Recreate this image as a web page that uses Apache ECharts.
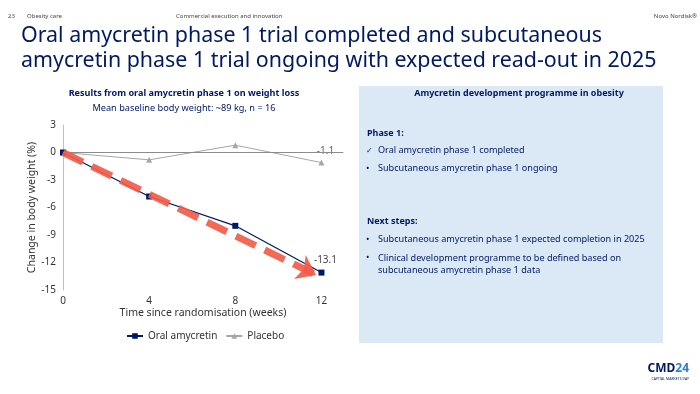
<!DOCTYPE html>
<html><head><meta charset="utf-8">
<script src="https://cdn.jsdelivr.net/npm/echarts@6/dist/echarts.min.js"></script>
<style>html,body{margin:0;padding:0;background:#fff}#c{width:700px;height:394px}</style>
</head><body><div id="c"></div>
<script>
const weeks = [0, 4, 8, 12];
const oralAmycretin = [0, -4.8, -8.0, -13.1];
const placebo = [0, -0.8, 0.8, -1.1];
const xTicks = [0, 4, 8, 12];
const yTicks = [3, 0, -3, -6, -9, -12, -15];
const arrowStart = [0, 0];
const arrowEnd = [11.75, -13.35];

const NAVY = '#001965';
const F = '"Noto Sans", "Open Sans", sans-serif';
const chart = echarts.init(document.getElementById('c'));

const lastIdx = weeks.length - 1;
chart.setOption({
  animation: false,
  textStyle: {fontFamily: F},
  grid: {left: 63, right: 357, top: 125, bottom: 104},
  xAxis: {
    type: 'value', min: 0, max: 13, interval: 4,
    name: 'Time since randomisation (weeks)', nameLocation: 'middle', nameGap: 18,
    nameTextStyle: {color: '#333', fontSize: 10.5, fontFamily: F},
    axisLine: {lineStyle: {color: '#bfbfbf', width: 1}},
    axisTick: {show: false},
    splitLine: {show: false},
    axisLabel: {color: '#333', fontSize: 10, fontFamily: F, showMaxLabel: false, margin: 6,
      formatter: v => xTicks.includes(v) ? String(v) : ''}
  },
  yAxis: {
    type: 'value', min: -15, max: 3, interval: 3,
    name: 'Change in body weight (%)', nameLocation: 'middle', nameGap: 8,
    nameTextStyle: {color: '#333', fontSize: 10.5, fontFamily: F},
    axisLine: {show: true, lineStyle: {color: '#bfbfbf', width: 1}},
    axisTick: {show: false},
    splitLine: {show: false},
    axisLabel: {color: '#333', fontSize: 10, fontFamily: F, margin: 7,
      formatter: v => yTicks.includes(v) ? String(v) : ''}
  },
  legend: {
    top: 326, left: 121, itemGap: 8, itemWidth: 16, itemHeight: 7,
    textStyle: {color: '#333', fontSize: 10, fontFamily: F},
    data: ['Oral amycretin', 'Placebo']
  },
  series: [
    {
      name: 'Placebo', type: 'line', z: 2,
      data: weeks.map((w, i) => [w, placebo[i]]),
      symbol: 'triangle', symbolSize: 6,
      itemStyle: {color: '#a6a6a6'},
      lineStyle: {color: '#a6a6a6', width: 1},
      label: {show: true, position: 'top', distance: 3, offset: [4, 0], color: '#666', fontSize: 10, fontFamily: F,
        backgroundColor: '#fff', padding: [0, 2],
        formatter: p => p.dataIndex === lastIdx ? p.value[1].toFixed(1) : ''},
      markLine: {
        silent: true, symbol: 'none', label: {show: false},
        lineStyle: {color: '#8c8c8c', width: 1, type: 'solid'},
        data: [[{coord: [0, 0]}, {coord: [13, 0]}]]
      }
    },
    {
      name: 'Oral amycretin', type: 'line', z: 3,
      data: weeks.map((w, i) => [w, oralAmycretin[i]]),
      symbol: 'rect', symbolSize: 6,
      itemStyle: {color: NAVY},
      lineStyle: {color: NAVY, width: 1.2},
      label: {show: true, position: 'top', distance: 4, offset: [4, 0], color: '#444', fontSize: 10, fontFamily: F,
        formatter: p => p.dataIndex === lastIdx ? p.value[1].toFixed(1) : ''},
      markLine: {
        silent: true, symbol: ['none', 'arrow'], symbolSize: [20, 18], label: {show: false},
        lineStyle: {color: '#f25c4a', width: 7, type: [22, 10], opacity: 0.92},
        data: [[{coord: arrowStart}, {coord: arrowEnd}]]
      }
    }
  ],
  graphic: [
    {type: 'text', x: 8, y: 13, style: {text: '23', fontSize: 6, fill: '#444', fontFamily: F}},
    {type: 'text', x: 27, y: 13, style: {text: 'Obesity care', fontSize: 6, fill: '#444', fontFamily: F}},
    {type: 'text', x: 176, y: 13, style: {text: 'Commercial execution and innovation', fontSize: 6, fill: '#444', fontFamily: F}},
    {type: 'text', x: 697, y: 13, style: {text: 'Novo Nordisk®', fontSize: 6, fill: '#444', fontFamily: F, align: 'right'}},
    {type: 'text', x: 21, y: 23, style: {text: 'Oral amycretin phase 1 trial completed and subcutaneous\namycretin phase 1 trial ongoing with expected read-out in 2025', fontSize: 21.4, lineHeight: 25.5, fill: NAVY, fontFamily: F}},
    {type: 'text', x: 184, y: 89, style: {text: 'Results from oral amycretin phase 1 on weight loss', fontSize: 9.1, fontWeight: 'bold', fill: NAVY, fontFamily: F, align: 'center'}},
    {type: 'text', x: 184, y: 104, style: {text: 'Mean baseline body weight: ~89 kg, n = 16', fontSize: 9.2, fill: NAVY, fontFamily: F, align: 'center'}},
    {type: 'rect', shape: {x: 359, y: 86, width: 304, height: 257}, style: {fill: '#dbe9f6'}, z: -1},
    {type: 'text', x: 519, y: 89, style: {text: 'Amycretin development programme in obesity', fontSize: 9, fontWeight: 'bold', fill: NAVY, fontFamily: F, align: 'center'}},
    {type: 'text', x: 367, y: 129, style: {text: 'Phase 1:', fontSize: 9, fontWeight: 'bold', fill: NAVY, fontFamily: F}},
    {type: 'text', x: 366, y: 147, style: {text: '✓', fontSize: 8, fill: NAVY, fontFamily: '"DejaVu Sans", sans-serif'}},
    {type: 'text', x: 378, y: 146, style: {text: 'Oral amycretin phase 1 completed', fontSize: 9.1, fill: NAVY, fontFamily: F}},
    {type: 'text', x: 366, y: 164, style: {text: '•', fontSize: 9.1, fill: NAVY, fontFamily: F}},
    {type: 'text', x: 378, y: 164, style: {text: 'Subcutaneous amycretin phase 1 ongoing', fontSize: 9.1, fill: NAVY, fontFamily: F}},
    {type: 'text', x: 367, y: 217, style: {text: 'Next steps:', fontSize: 9, fontWeight: 'bold', fill: NAVY, fontFamily: F}},
    {type: 'text', x: 366, y: 235, style: {text: '•', fontSize: 9.1, fill: NAVY, fontFamily: F}},
    {type: 'text', x: 378, y: 235, style: {text: 'Subcutaneous amycretin phase 1 expected completion in 2025', fontSize: 9.1, fill: NAVY, fontFamily: F}},
    {type: 'text', x: 366, y: 253, style: {text: '•', fontSize: 9.1, fill: NAVY, fontFamily: F}},
    {type: 'text', x: 378, y: 253, style: {text: 'Clinical development programme to be defined based on\nsubcutaneous amycretin phase 1 data', fontSize: 9.1, lineHeight: 11.5, fill: NAVY, fontFamily: F}},
    {type: 'text', x: 689, y: 363, style: {text: '{a|CMD}{b|24}', align: 'right', rich: {a: {fontSize: 12, fontWeight: 'bold', fill: NAVY, fontFamily: F}, b: {fontSize: 12, fontWeight: 'bold', fill: '#2f7fd0', fontFamily: F}}}},
    {type: 'text', x: 689, y: 377, style: {text: 'CAPITAL MARKETS DAY', fontSize: 3.5, fill: NAVY, fontFamily: F, align: 'right'}}
  ]
});
</script></body></html>
